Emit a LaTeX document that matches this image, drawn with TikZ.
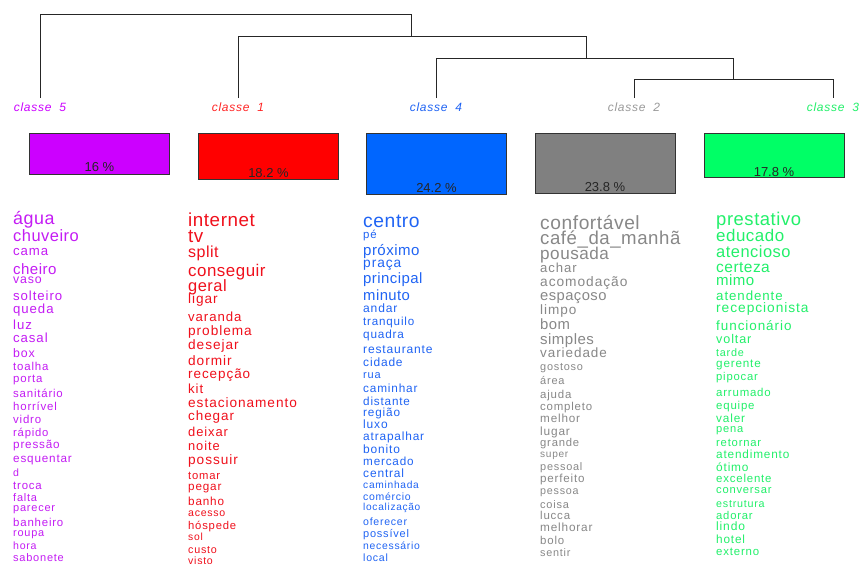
\documentclass[tikz,border=0pt]{standalone}
\usepackage{fontspec}
\setmainfont{Liberation Sans}
\newfontfamily\wfa[LetterSpace=3]{Liberation Sans}
\newfontfamily\wfb[LetterSpace=7]{Liberation Sans}
\newfontfamily\clsfont[LetterSpace=6]{Liberation Sans}
\definecolor{cpurple}{HTML}{CC00FF}
\definecolor{cred}{HTML}{FF0000}
\definecolor{cblue}{HTML}{0066FF}
\definecolor{cgray}{HTML}{808080}
\definecolor{cgreen}{HTML}{00FF66}
\definecolor{tpurple}{HTML}{C41CF4}
\definecolor{tred}{HTML}{F0101C}
\definecolor{tblue}{HTML}{2064F4}
\definecolor{tgray}{HTML}{888888}
\definecolor{tgreen}{HTML}{22F06A}
\definecolor{lgray}{HTML}{9A9A9A}
\newcommand{\wordfont}[1]{\ifdim #1pt<15.7pt\relax\wfb\pgfmathsetmacro\wsz{0.88*#1}\else\wfa\pgfmathsetmacro\wsz{0.94*#1}\fi\fontsize{\wsz}{\wsz}\selectfont}
\begin{document}
\begin{tikzpicture}[x=1pt,y=-1pt,
  dend/.style={draw=black!85, line width=0.9pt},
  cbox/.style={draw=black!80, line width=0.8pt, minimum width=140pt, inner sep=0pt},
  pct/.style={font=\fontsize{13}{13}\selectfont, text=black!85, inner sep=0pt},
  cls/.style={font=\clsfont\itshape\fontsize{12}{12}\selectfont, inner sep=0pt},
  word/.style={anchor=base west, inner sep=0pt}]
\fill[white] (0,0) rectangle (862,563);
\path[use as bounding box] (0,0) rectangle (862,563);

% leaves of the dendrogram
\coordinate (l5) at (40,98);
\coordinate (l1) at (238,98);
\coordinate (l4) at (436,98);
\coordinate (l2) at (634,98);
\coordinate (l3) at (833,98);
\coordinate (A) at (411,14.7);
\coordinate (Ab) at (411,36.7);
\coordinate (B) at (586,36.7);
\coordinate (Bb) at (586,58.3);
\coordinate (C) at (733,58.3);
\coordinate (Cb) at (733,79.3);
\draw[dend] (l5) |- (A) -- (Ab);
\draw[dend] (l1) |- (B) -- (Bb);
\draw[dend] (l4) |- (C) -- (Cb);
\draw[dend] (l2) |- (Cb) -| (l3);

% class labels
\node[cls, text=cpurple] (k5) at (40,107) {classe\hspace{8pt}5};
\node[cls, text=cred!85] (k1) at (238,107) {classe\hspace{8pt}1};
\node[cls, text=tblue] (k4) at (436,107) {classe\hspace{8pt}4};
\node[cls, text=lgray] (k2) at (634,107) {classe\hspace{8pt}2};
\node[cls, text=tgreen] (k3) at (833,107) {classe\hspace{8pt}3};

% boxes
\node[cbox, fill=cpurple, minimum height=41pt] (b5) at (99.5,153.5) {};
\node[cbox, fill=cred, minimum height=46pt] (b1) at (268.5,156) {};
\node[cbox, fill=cblue, minimum height=61pt] (b4) at (436.5,163.5) {};
\node[cbox, fill=cgray, minimum height=60pt] (b2) at (605,163) {};
\node[cbox, fill=cgreen, minimum height=44pt] (b3) at (774,155) {};
\node[pct] (p5) at (99.5,167) {16 \%};
\node[pct] (p1) at (268.5,173) {18.2 \%};
\node[pct] (p4) at (436.5,188) {24.2 \%};
\node[pct] (p2) at (605,187) {23.8 \%};
\node[pct] (p3) at (774,172) {17.8 \%};

% column: classe 5
\foreach \y/\s/\t [count=\i] in {
 220/19/água, 237/17.5/chuveiro, 252/15/cama, 270/16/cheiro, 280/14/vaso,
 297/15/solteiro, 310/15/queda, 326/15/luz, 339/15/casal, 354/14/box,
 367/13/toalha, 379/13/porta, 394/13/sanitário, 407/13/horrível, 420/13/vidro,
 433/12.8/rápido, 445/13.3/pressão, 459/13.3/esquentar, 473/12/d, 486/13/troca,
 498/12.5/falta, 508/12.5/parecer, 523/13/banheiro, 533/12.4/roupa, 546/12/hora,
 558/12.5/sabonete}
{ \node[word, text=tpurple, font=\wordfont{\s}] (w5-\i) at (13,{\y+0.25*\s}) {\t}; }

% column: classe 1
\foreach \y/\s/\t [count=\i] in {
 221/20/internet, 237/20/tv, 253/17/split, 272/18/conseguir, 287/17.5/geral,
 300/15.5/ligar, 318/15/varanda, 332/15.5/problema, 346/15.5/desejar, 362/15.5/dormir,
 375/15.3/recepção, 390/15/kit, 404/15.5/estacionamento, 417/15.3/chegar, 433/14.7/deixar,
 447/14.6/noite, 461/15.5/possuir, 476/12.8/tomar, 487/13.3/pegar, 502/13.3/banho,
 513/12/acesso, 526/12.8/hóspede, 538/11.7/sol, 550/12.2/custo, 561/12/visto}
{ \node[word, text=tred, font=\wordfont{\s}] (w1-\i) at (188,{\y+0.25*\s}) {\t}; }

% column: classe 4
\foreach \y/\s/\t [count=\i] in {
 222/20.5/centro, 235/13/pé, 251/16/próximo, 264/15.6/praça, 280/15.9/principal,
 297/15.8/minuto, 309/13.7/andar, 322/13.2/tranquilo, 335/13.4/quadra, 350/13.7/restaurante,
 363/13.6/cidade, 375/12.5/rua, 389/13.4/caminhar, 402/13.3/distante, 413/13.4/região,
 425/13.6/luxo, 437/13.5/atrapalhar, 450/13.6/bonito, 462/13.3/mercado, 474/13.6/central,
 486/11.6/caminhada, 498/11.9/comércio, 508/11.5/localização, 522/12/oferecer, 534/12.5/possível,
 547/11.8/necessário, 558/12/local}
{ \node[word, text=tblue, font=\wordfont{\s}] (w4-\i) at (363,{\y+0.25*\s}) {\t}; }

% column: classe 2
\foreach \y/\s/\t [count=\i] in {
 224/20.4/confortável, 240/19.8/café\_da\_manhã, 255/18.2/pousada, 269/14.9/achar, 283/15.6/acomodação,
 297/15.7/espaçoso, 311/15.4/limpo, 326/15.8/bom, 340/16/simples, 354/15.3/variedade,
 367/12.4/gostoso, 381/12.5/área, 395/13/ajuda, 407/13/completo, 419/13.3/melhor,
 432/13.5/lugar, 443/12.8/grande, 455/11.5/super, 467/12.4/pessoal, 479/13.2/perfeito,
 491/12.2/pessoa, 505/12.5/coisa, 516/13/lucca, 528/13.4/melhorar, 541/13/bolo,
 553/12.3/sentir}
{ \node[word, text=tgray, font=\wordfont{\s}] (w2-\i) at (540,{\y+0.25*\s}) {\t}; }

% column: classe 3
\foreach \y/\s/\t [count=\i] in {
 221/19.6/prestativo, 237/18/educado, 253/17.5/atencioso, 268/16.5/certeza, 281/16/mimo,
 297/15.1/atendente, 309/15.6/recepcionista, 327/15.3/funcionário, 340/14.3/voltar, 353/12.3/tarde,
 364/13.3/gerente, 377/12.8/pipocar, 393/13/arrumado, 406/13/equipe, 419/13.4/valer,
 429/12.6/pena, 443/12.8/retornar, 455/13.4/atendimento, 468/13.5/ótimo, 479/13/excelente,
 490/12.7/conversar, 504/12.2/estrutura, 516/12.8/adorar, 527/13.7/lindo, 540/13.4/hotel,
 552/13/externo}
{ \node[word, text=tgreen, font=\wordfont{\s}] (w3-\i) at (716,{\y+0.25*\s}) {\t}; }
\end{tikzpicture}
\end{document}
